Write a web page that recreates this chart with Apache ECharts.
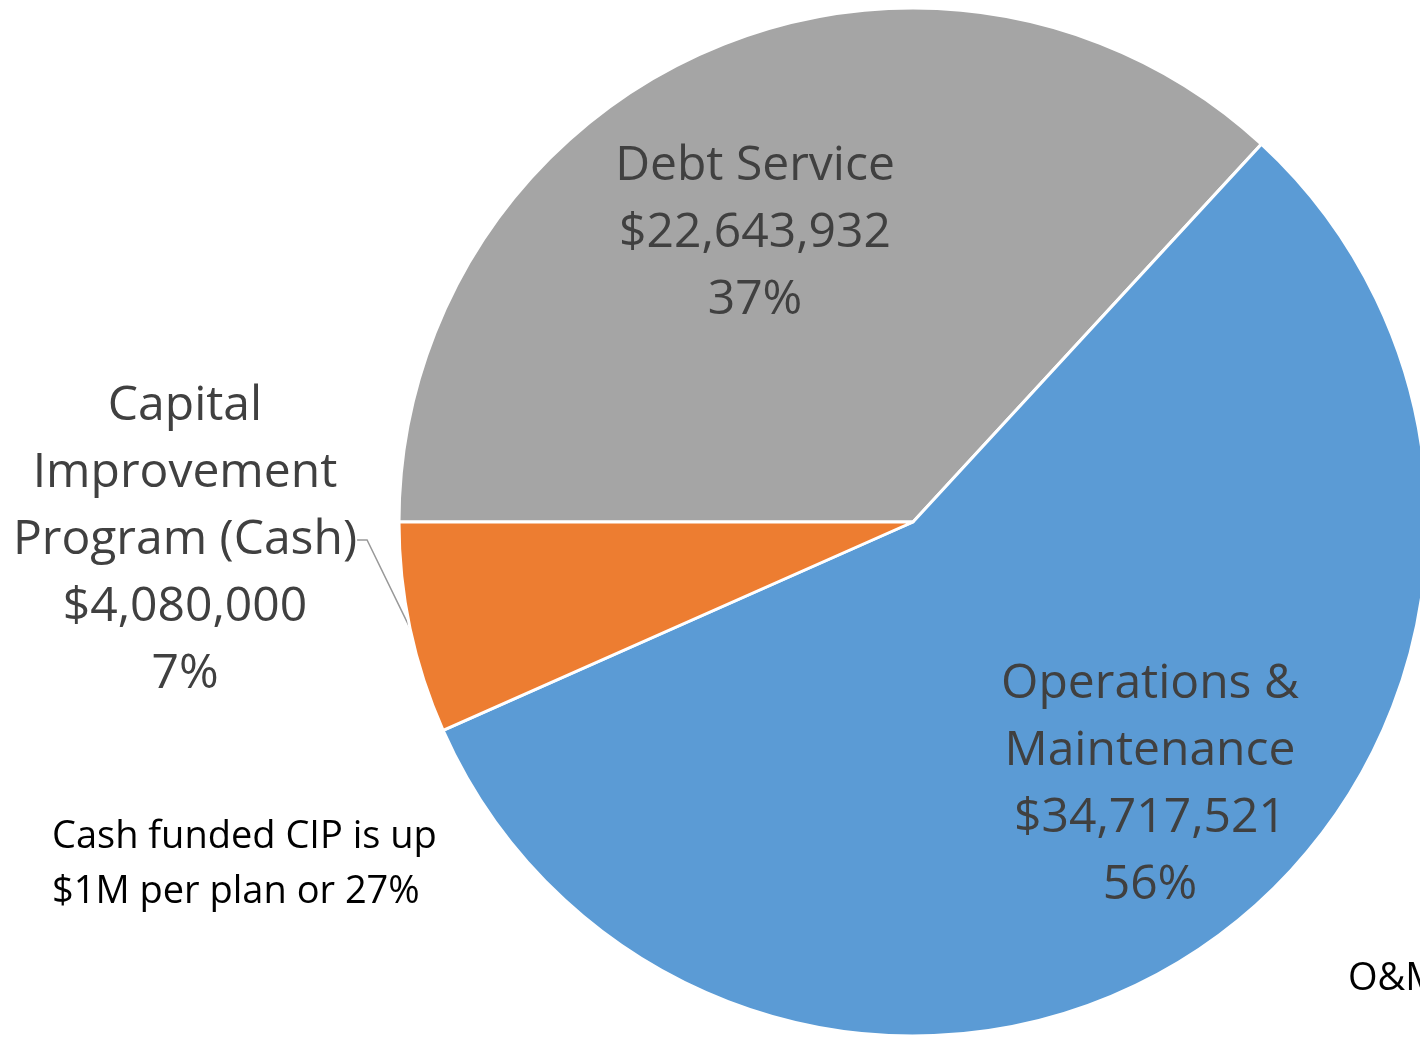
<!DOCTYPE html>
<html>
<head>
<meta charset="utf-8">
<script src="https://cdn.jsdelivr.net/npm/echarts@6/dist/echarts.min.js"></script>
<style>
  html, body { margin: 0; padding: 0; background: #fff; }
  #pie { width: 1420px; height: 1039px; }
</style>
</head>
<body>
<div id="pie"></div>
<script>
// 数据
const names = ['Debt Service', 'Operations &\nMaintenance', 'Capital\nImprovement\nProgram (Cash)']
const values = [22643932, 34717521, 4080000]
const colors = ['#A5A5A5', '#5B9BD5', '#ED7D31']
const note = 'Cash funded CIP is up\n$1M per plan or 27%'

const FONT = '"Open Sans", sans-serif'

const myChart = echarts.init(document.getElementById('pie'))
myChart.setOption({
  animation: false,
  series: [
    {
      type: 'pie',
      center: [913, 522],
      radius: 514,
      startAngle: 180,
      clockwise: true,
      percentPrecision: 0,
      itemStyle: { borderColor: '#fff', borderWidth: 3 },
      data: names.map((n, i) => ({
        name: n,
        value: values[i],
        itemStyle: { color: colors[i] },
        label: { position: i === 2 ? 'outside' : 'inside' }
      })),
      label: {
        color: '#404040',
        fontFamily: FONT,
        fontSize: 48,
        lineHeight: 67,
        align: 'center',
        overflow: 'none',
        formatter: function (p) {
          return p.name + '\n$' + p.value.toLocaleString('en-US') + '\n' + p.percent + '%'
        }
      },
      labelLine: {
        show: true,
        length: 70,
        length2: 10,
        lineStyle: { color: '#999', width: 1.5 }
      },
      labelLayout: function (p) {
        // 手动摆放标签
        if (p.dataIndex === 0) return { x: 755, y: 233, align: 'center' }
        if (p.dataIndex === 1) return { x: 1150, y: 785, align: 'center' }
        return { x: 185, y: 540, align: 'center' }
      }
    }
  ],
  graphic: [
    {
      type: 'text',
      left: 52,
      top: 810,
      style: { text: note, font: '38px ' + FONT, fill: '#000', lineHeight: 55 }
    },
    {
      type: 'text',
      left: 1348,
      top: 960,
      style: { text: 'O&M', font: '38px ' + FONT, fill: '#000' }
    }
  ]
})
</script>
</body>
</html>
